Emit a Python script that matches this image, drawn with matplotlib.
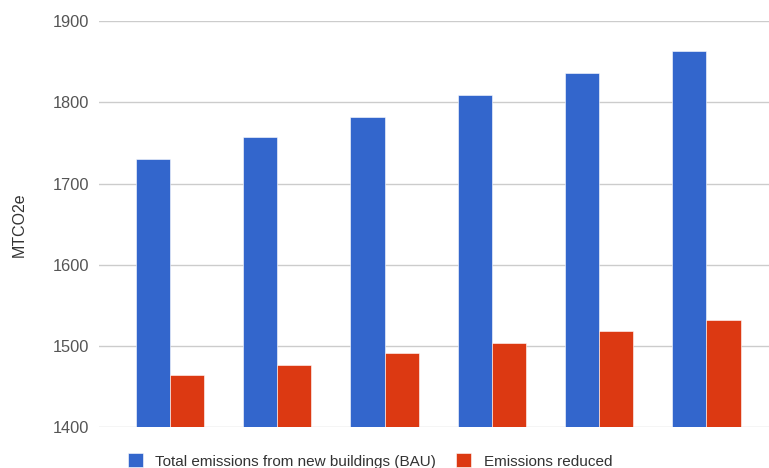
import numpy as np
import matplotlib.pyplot as plt

plt.rcParams['font.family'] = ['Liberation Sans', 'DejaVu Sans']

# values (MTCO2e)
groups = ['1', '2', '3', '4', '5', '6']
total_bau = [1730, 1757, 1782, 1809, 1836, 1864]
reduced = [1464, 1477, 1491, 1504, 1518, 1532]
yticks = [1400, 1500, 1600, 1700, 1800, 1900]

blue = '#3366cc'
red = '#dc3912'

fig = plt.figure(figsize=(7.69, 4.68), dpi=100)
ax = fig.add_axes([99 / 769, 40.7 / 468, 670 / 769, 406 / 468])

x = np.arange(len(groups))
w = 0.318
ax.bar(x - w / 2, total_bau, width=w, color=blue, edgecolor='white', linewidth=0.4,
       label='Total emissions from new buildings (BAU)', zorder=3)
ax.bar(x + w / 2, reduced, width=w, color=red, edgecolor='white', linewidth=0.4,
       label='Emissions reduced', zorder=3)

ax.set_ylim(1400, 1900)
ax.set_xlim(-0.662, 5.583)
ax.set_yticks(yticks)
ax.set_xticks([])
ax.grid(axis='y', color='#cccccc', linewidth=1, zorder=0)
for s in ax.spines.values():
    s.set_visible(False)
ax.tick_params(axis='y', length=0, pad=7.2, labelsize=11.8, labelcolor='#555555')

ax.set_ylabel('MTCO2e', fontsize=11.5, color='#333333')
ax.yaxis.set_label_coords(-0.108, 0.5)

fig.legend(loc='center', bbox_to_anchor=(370 / 769, 1 - 461 / 468), ncol=2,
           frameon=False, fontsize=11, labelcolor='#333333',
           handlelength=1.0, handleheight=1.0, handletextpad=0.8,
           columnspacing=1.3, borderpad=0)

fig.savefig('out.png', dpi=100)
